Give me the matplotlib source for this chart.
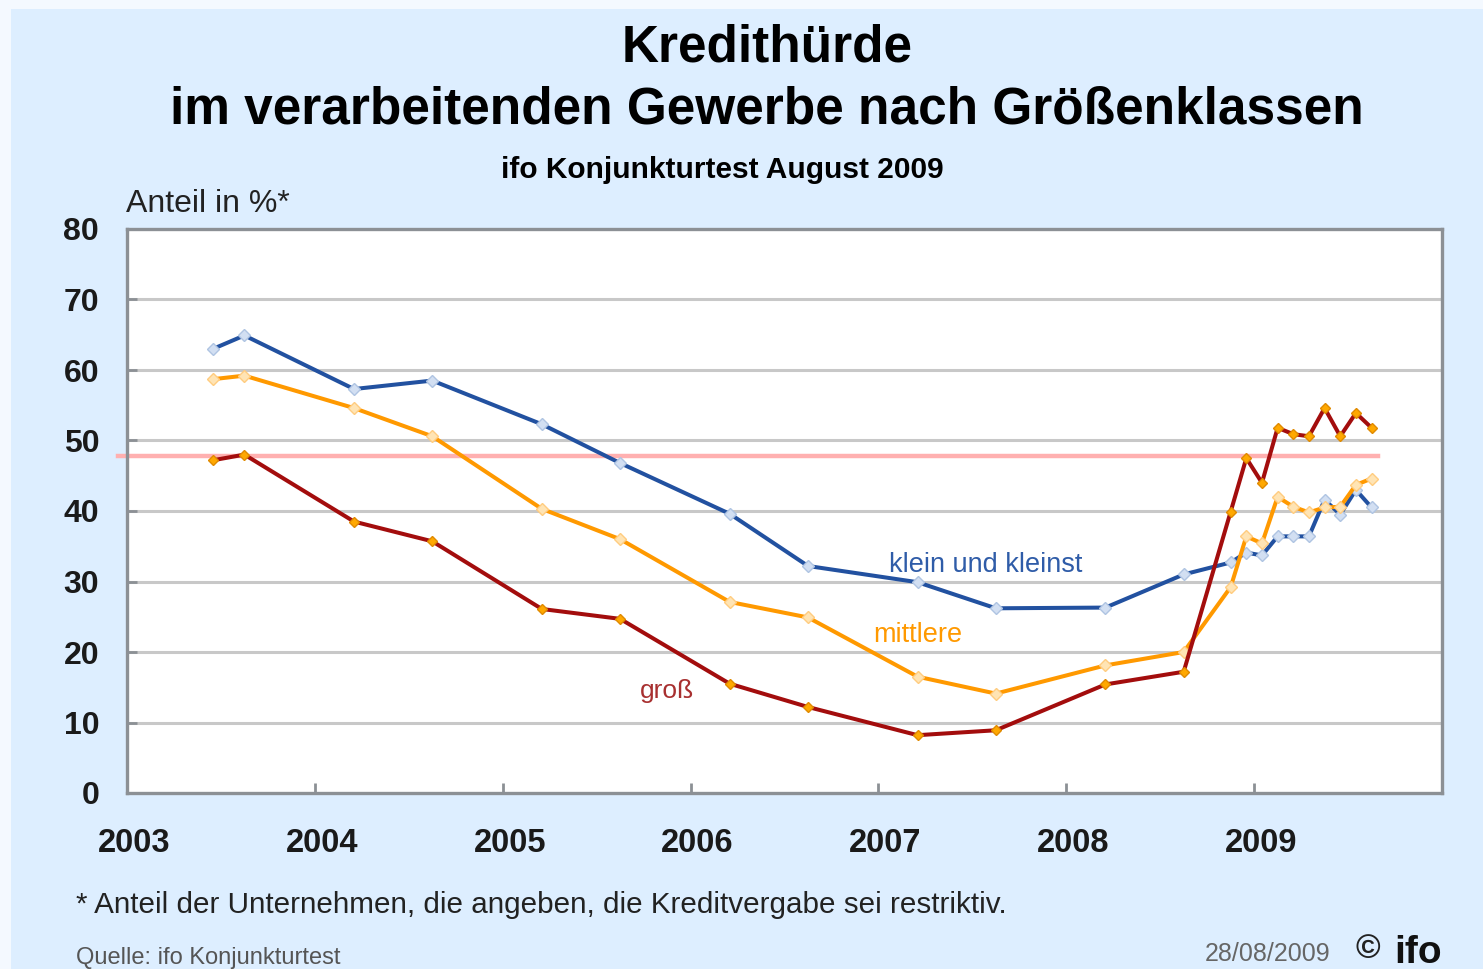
import matplotlib
matplotlib.use("Agg")
import matplotlib.pyplot as plt
import matplotlib.transforms as mtransforms
from matplotlib.patches import Rectangle

# ifo Konjunkturtest: share of firms reporting restrictive lending (%)
MONTHS = ["2003-06", "2003-08", "2004-03", "2004-08", "2005-03", "2005-08",
          "2006-03", "2006-08", "2007-03", "2007-08", "2008-03", "2008-08",
          "2008-11", "2008-12", "2009-01", "2009-02", "2009-03", "2009-04",
          "2009-05", "2009-06", "2009-07", "2009-08"]
KLEIN = [63.0, 64.9, 57.3, 58.5, 52.3, 46.8, 39.6, 32.2, 29.9, 26.2, 26.3, 31.0,
         32.7, 34.1, 33.7, 36.4, 36.4, 36.4, 41.6, 39.5, 43.0, 40.5]
MITTLERE = [58.7, 59.2, 54.6, 50.6, 40.3, 36.0, 27.1, 24.9, 16.5, 14.1, 18.1, 20.0,
            29.2, 36.4, 35.4, 42.0, 40.6, 39.8, 40.5, 40.6, 43.7, 44.6]
GROSS = [47.2, 48.0, 38.5, 35.7, 26.1, 24.7, 15.5, 12.2, 8.2, 8.9, 15.4, 17.2,
         39.9, 47.5, 44.0, 51.8, 50.9, 50.6, 54.6, 50.6, 53.9, 51.8]
REFERENCE_LEVEL = 47.8
YEARS = [2003, 2004, 2005, 2006, 2007, 2008, 2009]
Y_TICKS = [0, 10, 20, 30, 40, 50, 60, 70, 80]


def to_decimal_year(s):
    y, m = s.split("-")
    return int(y) + (int(m) - 0.5) / 12.0


x = [to_decimal_year(m) for m in MONTHS]

W, H = 1483, 969
fig = plt.figure(figsize=(W / 100, H / 100), dpi=100, facecolor="#F4F9FF")
fig.patches.append(Rectangle((11 / W, 0), 1, 1 - 9 / H, transform=fig.transFigure,
                             facecolor="#DDEEFF", edgecolor="none", zorder=-10))

ax = fig.add_axes([127 / W, 1 - 793 / H, (1442 - 127) / W, (793 - 229) / H])
ax.set_facecolor("white")

for v in Y_TICKS[1:-1]:
    ax.axhline(v, color="#C8C8C8", lw=2.2, zorder=1)

ax.axhline(REFERENCE_LEVEL, xmin=-0.007, xmax=0.951, color="#FFB0B0", lw=3.2,
           clip_on=False, zorder=2)

ax.plot(x, KLEIN, color="#2251A0", lw=2.9, marker="D", ms=6,
        mfc="#D2DFF2", mec="#AFC4E2", zorder=3)
ax.plot(x, MITTLERE, color="#FF9900", lw=2.9, marker="D", ms=6,
        mfc="#FFE4B4", mec="#FFCC80", zorder=4)
ax.plot(x, GROSS, color="#A30D0D", lw=2.9, marker="D", ms=5,
        mfc="#FFA800", mec="#E08A00", zorder=5)

ax.set_xlim(2003, 2010)
ax.set_ylim(0, 80)
ax.set_xticks(YEARS)
ax.set_xticklabels([str(y) for y in YEARS])
ax.set_yticks(Y_TICKS)
ax.set_yticklabels([str(v) for v in Y_TICKS])
ax.tick_params(axis="both", direction="in", length=7, width=2, color="#8C9095")
ax.tick_params(axis="x", pad=25)
ax.tick_params(axis="y", pad=20)
for lab in ax.get_xticklabels():
    lab.set_fontfamily("Liberation Sans")
    lab.set_fontweight("bold")
    lab.set_fontsize(23.5)
    lab.set_color("#1A1A1A")
    lab.set_transform(lab.get_transform() + mtransforms.ScaledTranslation(0.07, 0, fig.dpi_scale_trans))
for lab in ax.get_yticklabels():
    lab.set_fontfamily("Liberation Sans")
    lab.set_fontweight("bold")
    lab.set_fontsize(23)
    lab.set_color("#1A1A1A")

for side in ["left", "bottom", "top", "right"]:
    ax.spines[side].set_color("#8C9095")
    ax.spines[side].set_linewidth(2.4)

ax.text(2007.57, 32.4, "klein und kleinst", color="#2F5CA8", fontsize=19.5,
        family="Liberation Sans", ha="center", va="center")
ax.text(2007.21, 22.4, "mittlere", color="#FF9900", fontsize=19.5,
        family="Liberation Sans", ha="center", va="center")
ax.text(2005.875, 14.4, "groß", color="#A83030", fontsize=19,
        family="Liberation Sans", ha="center", va="center")

fig.text(767 / W, 1 - 48 / H, "Kredithürde", ha="center", va="center",
         fontsize=37, fontweight="bold", family="Liberation Sans")
fig.text(767 / W, 1 - 110 / H, "im verarbeitenden Gewerbe nach Größenklassen",
         ha="center", va="center", fontsize=37, fontweight="bold", family="Liberation Sans")
fig.text(722 / W, 1 - 170 / H, "ifo Konjunkturtest August 2009", ha="center", va="center",
         fontsize=21.5, fontweight="bold", family="Liberation Sans")
fig.text(126 / W, 1 - 204 / H, "Anteil in %*", ha="left", va="center",
         fontsize=23, family="Liberation Sans", color="#222222")

fig.text(76 / W, 1 - 905 / H, "* Anteil der Unternehmen, die angeben, die Kreditvergabe sei restriktiv.",
         ha="left", va="center", fontsize=21.3, family="Liberation Sans", color="#222222")
fig.text(76 / W, 1 - 958 / H, "Quelle: ifo Konjunkturtest", ha="left", va="center",
         fontsize=17, family="Liberation Sans", color="#555555")
fig.text(1205 / W, 1 - 954 / H, "28/08/2009", ha="left", va="center",
         fontsize=18, family="Liberation Sans", color="#666666")
fig.text(1368 / W, 1 - 950 / H, "©", ha="center", va="center",
         fontsize=24, fontweight="bold", family="Liberation Sans", color="#222222")
fig.text(1394 / W, 1 - 953 / H, "ifo", ha="left", va="center",
         fontsize=28, fontweight="bold", family="Liberation Sans", color="#111111")

fig.savefig("out.png", dpi=100, facecolor=fig.get_facecolor())
